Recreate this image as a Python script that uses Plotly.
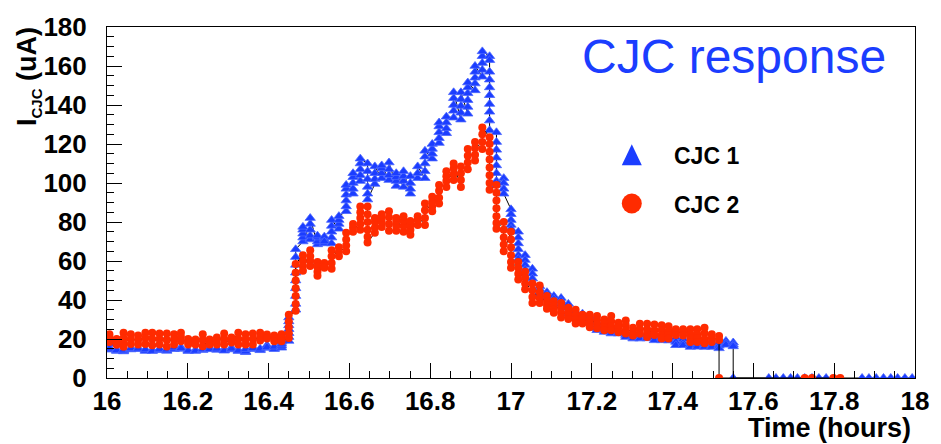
import plotly.graph_objects as go

# Start time of each one-minute readout column (hours)
minute_times = [
    16.006, 16.024, 16.041, 16.059, 16.077, 16.095, 16.112, 16.130, 16.148, 16.166,
    16.183, 16.201, 16.219, 16.237, 16.254, 16.272, 16.290, 16.308, 16.325, 16.343,
    16.361, 16.379, 16.396, 16.414, 16.432, 16.450, 16.467, 16.485, 16.503, 16.521,
    16.538, 16.556, 16.574, 16.592, 16.609, 16.627, 16.645, 16.663, 16.680, 16.698,
    16.716, 16.734, 16.751, 16.769, 16.787, 16.805, 16.822, 16.840, 16.858, 16.876,
    16.893, 16.911, 16.929, 16.947, 16.964, 16.982, 17.000, 17.018, 17.035, 17.053,
    17.071, 17.089, 17.106, 17.124, 17.142, 17.160, 17.177, 17.195, 17.213, 17.231,
    17.248, 17.266, 17.284, 17.302, 17.319, 17.337, 17.355, 17.373, 17.390, 17.408,
    17.426, 17.444, 17.461, 17.479, 17.497, 17.515, 17.532, 17.550,
]

# CJC 1 current readings (uA), one list per readout column
cjc1_readings = [
    [17.5, 15.5, 14.5, 15.0], [14.5, 13.8, 14.2], [14.0, 13.6, 14.4], [15.0, 14.6, 15.2],
    [15.4, 14.8, 15.0], [14.2, 13.8, 14.6], [14.0, 14.4, 13.8], [14.6, 14.2, 14.8],
    [14.4, 13.9, 14.5], [15.2, 14.8, 15.6], [15.8, 14.9, 15.2], [14.2, 13.8, 14.0],
    [14.0, 14.4, 13.9], [14.6, 14.3, 14.8], [15.0, 15.6, 14.7], [14.8, 14.4, 15.0],
    [14.2, 14.6, 14.0], [15.5, 14.6, 15.0], [14.4, 13.8, 14.0], [13.2, 13.6, 14.8],
    [15.6, 14.8, 15.2], [14.6, 14.2, 15.0], [16.8, 15.4, 15.8], [15.2, 14.8, 16.0],
    [15.5, 16.5, 17.5, 18.5, 19.0],
    [19.0, 21.0, 23.0, 25.0, 27.0, 29.0, 31.0],
    [35.0, 38.0, 42.0, 46.0, 50.0, 54.0, 58.0, 62.0, 66.0],
    [70.0, 72.0, 74.0, 76.0, 77.5], [71.0, 73.0, 76.0, 79.0, 82.0],
    [68.5, 70.0, 72.0, 73.0], [69.0, 71.0, 72.5, 70.0],
    [69.0, 72.0, 75.0, 78.0, 81.0], [76.5, 79.0, 81.0, 83.0],
    [85.5, 88.0, 91.0, 94.0, 97.0, 99.0], [94.5, 97.0, 100.0, 103.0, 105.0],
    [101.0, 104.0, 107.0, 110.0, 112.5], [110.0, 106.0, 102.0, 98.0, 94.5, 91.5],
    [99.5, 102.0, 105.0, 108.5], [102.5, 105.0, 107.5, 109.0],
    [101.5, 104.0, 107.0, 110.5], [98.5, 101.0, 103.0, 105.0],
    [98.0, 101.0, 103.5, 106.0], [94.5, 97.0, 100.0, 103.5],
    [102.5, 105.0, 108.5], [102.5, 106.0, 110.0, 113.5, 116.5],
    [112.5, 115.0, 117.5, 120.0], [120.5, 123.0, 126.0, 129.0, 131.0],
    [125.5, 128.0, 131.0, 134.0], [133.5, 137.0, 140.0, 143.5, 146.5],
    [132.5, 136.0, 139.5, 143.0, 146.5], [135.5, 139.0, 142.5, 146.0, 149.0, 151.5],
    [147.5, 151.0, 154.0, 157.0, 160.0], [154.5, 158.0, 161.5, 165.0, 167.5],
    [165.0, 163.0, 157.0, 153.0, 149.0, 145.0, 140.5, 136.5, 132.0, 127.0],
    [126.0, 121.0, 117.0, 113.0, 109.0, 105.0, 101.0, 99.0],
    [102.5, 100.0, 97.0, 94.5], [86.5, 84.0, 81.0, 78.5, 76.5],
    [75.0, 72.0, 69.0, 66.0, 63.0, 61.0], [63.0, 60.5, 58.0, 55.5],
    [56.0, 53.5, 51.0, 48.5], [47.0, 45.5, 44.0, 43.0], [44.0, 42.5, 41.0],
    [42.0, 40.5, 39.0, 38.0], [41.0, 39.5, 38.0], [38.0, 36.0, 34.0, 33.0],
    [34.0, 32.5, 31.0], [33.0, 31.0, 29.5], [31.5, 30.5, 30.0],
    [28.5, 27.0, 25.5, 24.5], [26.0, 24.8, 23.6], [25.8, 24.2, 22.8],
    [24.3, 23.2, 22.8], [23.2, 22.0, 21.0], [22.5, 21.2, 20.2], [22.4, 21.0, 20.2],
    [22.2, 21.0, 20.3], [22.5, 20.8, 19.3], [21.8, 20.5, 19.3], [20.8, 19.8, 19.2],
    [20.8, 18.5, 16.8], [20.0, 18.0, 16.8], [18.3, 17.0, 15.9], [18.0, 16.8, 16.0],
    [17.4, 16.5, 15.9], [17.2, 16.4, 15.9], [18.2, 16.5, 15.2], [19.0, 17.8, 17.0],
    [18.2, 17.0, 16.2, 0.0],
]

# CJC 2 current readings (uA), one list per readout column
cjc2_readings = [
    [22.5, 20.5, 18.5, 21.0], [20.0, 18.0, 17.0], [23.2, 20.5, 18.0, 16.0],
    [22.5, 20.0, 17.5], [21.8, 19.5, 17.2], [23.2, 20.5, 17.5], [23.2, 20.0, 16.8],
    [22.8, 20.0, 17.2], [22.8, 19.5, 16.2], [22.5, 20.0, 17.2], [23.2, 21.0, 18.8],
    [20.0, 18.5, 17.2], [19.8, 18.2, 17.2], [22.5, 19.5, 16.3], [19.8, 18.5, 17.2],
    [20.8, 19.0, 17.2], [22.8, 20.0, 17.2], [20.8, 19.5, 18.2], [23.2, 20.0, 17.2],
    [22.5, 19.8, 17.2], [22.8, 20.0, 17.2], [23.2, 21.0, 19.2], [22.3, 21.0, 20.2],
    [21.8, 20.0, 18.8], [22.5, 20.5, 18.8],
    [20.5, 23.0, 26.0, 29.0, 32.5],
    [34.5, 38.0, 42.0, 46.0, 50.0, 54.0, 58.5],
    [63.0, 60.0, 57.5, 55.0], [65.5, 62.5, 60.0, 57.5], [59.5, 57.0, 54.5, 52.5],
    [59.0, 57.5, 56.5], [56.0, 59.0, 62.5, 65.5], [62.5, 64.5, 67.0],
    [65.0, 68.0, 71.0, 74.5], [75.0, 77.0, 79.0], [76.0, 79.0, 82.0, 85.0, 88.0],
    [88.0, 84.0, 80.0, 76.0, 72.5, 69.5], [74.5, 77.0, 80.0, 82.0],
    [77.5, 80.0, 82.0, 84.0], [85.5, 82.5, 79.0, 75.5], [75.5, 78.0, 80.5, 82.0],
    [75.0, 78.0, 80.5, 83.0], [73.5, 76.0, 78.5, 80.5], [78.5, 81.0, 83.0],
    [78.5, 82.0, 86.0, 89.5], [85.5, 88.0, 90.5, 93.0], [89.5, 92.5, 96.0, 99.0],
    [98.0, 101.0, 103.5, 106.0], [101.5, 104.5, 107.5, 110.0],
    [98.0, 101.5, 105.0, 108.5], [107.0, 110.5, 114.0, 117.5],
    [111.5, 114.5, 118.0, 121.0], [117.5, 121.0, 125.0, 128.5],
    [123.5, 120.0, 116.0, 112.0, 108.0, 104.0, 100.0, 96.5],
    [99.0, 95.0, 91.0, 87.0, 83.0, 79.5, 76.5],
    [80.0, 76.0, 72.0, 68.5, 65.0], [75.0, 71.0, 67.0, 63.0, 59.5, 56.5],
    [59.5, 56.5, 53.5, 50.5], [54.5, 51.5, 48.5, 45.5], [48.5, 45.0, 41.5, 38.5],
    [47.5, 44.0, 41.0, 38.5], [42.0, 39.5, 37.5, 35.5], [39.3, 37.0, 35.0, 33.5],
    [38.5, 36.0, 33.5, 31.0], [36.0, 34.0, 32.0, 30.3], [35.0, 32.5, 30.0, 28.0],
    [32.5, 30.5, 28.0], [32.5, 30.0, 28.0, 26.0], [31.8, 29.5, 27.5, 25.5],
    [30.0, 28.0, 26.0, 24.5], [31.8, 29.0, 26.5, 24.5], [28.3, 26.0, 23.5],
    [29.5, 27.0, 24.5, 22.8], [25.8, 23.5, 21.8], [27.8, 25.0, 22.7],
    [27.8, 25.0, 23.0, 21.0], [27.5, 24.5, 22.0], [27.0, 24.5, 22.0, 20.2],
    [26.5, 24.0, 22.0, 20.2], [25.0, 23.5, 22.0], [25.0, 23.5, 21.8],
    [25.0, 22.5, 20.5, 18.5], [25.0, 22.5, 20.5, 18.5], [25.8, 23.0, 20.0, 17.8],
    [22.5, 20.5, 18.5], [21.5, 19.5, 0.0],
]

# Readings after the chambers were switched off
cjc1_off_times = [17.638, 17.656, 17.674, 17.692, 17.709, 17.727, 17.745, 17.762,
                  17.780, 17.869, 17.886, 17.904, 17.922, 17.940, 17.957, 17.975, 17.993]
cjc1_off_values = [0, 0, 0, 0, 0, 0, 0, 0, 0, 0, 0, 0, 0, 0, 0, 0, 0]
cjc2_off_times = [17.727, 17.745, 17.798, 17.815]
cjc2_off_values = [0, 0, 0, 0]

x_ticks = [16, 16.2, 16.4, 16.6, 16.8, 17, 17.2, 17.4, 17.6, 17.8, 18]
y_ticks = [0, 20, 40, 60, 80, 100, 120, 140, 160, 180]

BLUE = "#1b3dff"
RED = "#ff2b00"
FONT = "Liberation Sans, Arial, Helvetica, sans-serif"


def flatten(times, readings, off_times, off_values):
    xs, ys = [], []
    for t, vals in zip(times, readings):
        for v in vals:
            xs.append(t)
            ys.append(v)
    xs.extend(off_times)
    ys.extend(off_values)
    return xs, ys


x1, y1 = flatten(minute_times, cjc1_readings, cjc1_off_times, cjc1_off_values)
x2, y2 = flatten(minute_times[:len(cjc2_readings)], cjc2_readings, cjc2_off_times, cjc2_off_values)

fig = go.Figure()
fig.add_trace(go.Scatter(
    x=x1, y=y1, mode="lines+markers", name="CJC 1",
    line=dict(color="black", width=1),
    marker=dict(symbol="triangle-up", size=9, color=BLUE,
                line=dict(color="#4a66ff", width=0.8)),
))
fig.add_trace(go.Scatter(
    x=x2, y=y2, mode="lines+markers", name="CJC 2",
    line=dict(color="black", width=1),
    marker=dict(symbol="circle", size=8, color=RED, line=dict(width=0)),
))

tickfont = dict(family=FONT, size=26, color="black", weight="bold")

fig.update_xaxes(
    range=[16, 18], tickvals=x_ticks, ticktext=[f"{v:g}" for v in x_ticks],
    ticks="inside", ticklen=15, tickwidth=1, tickcolor="black",
    minor=dict(dtick=0.05, ticks="inside", ticklen=7, tickwidth=1, tickcolor="black"),
    showline=True, linecolor="black", linewidth=1, mirror=True,
    showgrid=False, zeroline=False, tickfont=tickfont, ticklabelstandoff=0,
)
fig.update_yaxes(
    range=[0, 180], tickvals=y_ticks, ticktext=[str(v) for v in y_ticks],
    ticks="inside", ticklen=15, tickwidth=1, tickcolor="black",
    minor=dict(dtick=5, ticks="inside", ticklen=7, tickwidth=1, tickcolor="black"),
    showline=True, linecolor="black", linewidth=1, mirror=True,
    showgrid=False, zeroline=False, tickfont=tickfont, ticklabelstandoff=14,
)

annotations = [
    dict(text="CJC response", x=0.586, y=0.915, xref="paper", yref="paper",
         xanchor="left", yanchor="middle", showarrow=False,
         font=dict(family=FONT, size=48, color=BLUE)),
    dict(text="Time (hours)", x=0.997, y=-0.143, xref="paper", yref="paper",
         xanchor="right", yanchor="middle", showarrow=False,
         font=dict(family=FONT, size=27, color="black", weight="bold")),
    dict(text="I<sub><span style='font-size:15px'>CJC</span></sub> (uA)",
         x=-0.097, y=1.006, xref="paper", yref="paper", textangle=-90,
         xanchor="center", yanchor="top", showarrow=False,
         font=dict(family=FONT, size=27, color="black", weight="bold")),
    dict(text="CJC 1", x=0.6998, y=0.632, xref="paper", yref="paper",
         xanchor="left", yanchor="middle", showarrow=False,
         font=dict(family=FONT, size=23, color="black", weight="bold")),
    dict(text="CJC 2", x=0.6998, y=0.4916, xref="paper", yref="paper",
         xanchor="left", yanchor="middle", showarrow=False,
         font=dict(family=FONT, size=23, color="black", weight="bold")),
]

shapes = [
    dict(type="path", xref="paper", yref="paper", xsizemode="pixel", ysizemode="pixel",
         xanchor=0.6495, yanchor=0.6348, path="M -10,-10 L 10,-10 L 0,11 Z",
         fillcolor=BLUE, line=dict(width=0)),
    dict(type="circle", xref="paper", yref="paper", xsizemode="pixel", ysizemode="pixel",
         xanchor=0.6495, yanchor=0.4972, x0=-10, x1=10, y0=-10, y1=10,
         fillcolor=RED, line=dict(width=0)),
]

fig.update_layout(
    width=941, height=444,
    margin=dict(l=107, r=18, t=22, b=66),
    paper_bgcolor="white", plot_bgcolor="white",
    showlegend=False,
    annotations=annotations, shapes=shapes,
)

fig.write_html("out.html")
